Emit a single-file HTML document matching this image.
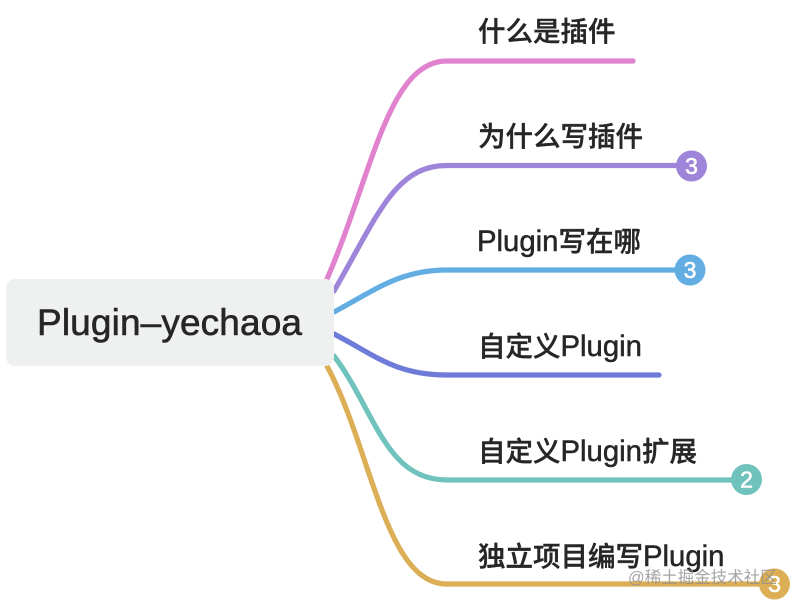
<!DOCTYPE html>
<html>
<head>
<meta charset="utf-8">
<style>
html,body{margin:0;padding:0;background:#fff;width:795px;height:604px;overflow:hidden}
svg{display:block}
.l{font-family:"Liberation Sans","Noto Sans CJK SC",sans-serif;font-size:27.5px;font-weight:500;fill:#262626;stroke:#262626;stroke-width:.4px}
.l tspan{font-size:29.300px;stroke-width:.5px}
.n{font-family:"Liberation Sans",sans-serif;font-size:23px;fill:#fff;stroke:#fff;stroke-width:.6px;text-anchor:middle}
path{fill:none;stroke-width:5.200;stroke-linecap:round}
</style>
</head>
<body>
<svg width="795" height="604" viewBox="0 0 795 604" xmlns="http://www.w3.org/2000/svg">
<path stroke="#e182cf" d="M327 279 C372 175 388 61 447 61 L633 61"/>
<path stroke="#9e85d9" d="M334 291 C378 215 395 165.500 447 165.500 L680 165.500"/>
<path stroke="#62aee3" d="M334 312 C375 290 400 270 447 270 L680 270"/>
<path stroke="#6f7bd9" d="M334 334 C375 355 395 375 447 375 L659 375"/>
<path stroke="#70c2bc" d="M334 356 C375 410 385 480 447 480 L735 480"/>
<path stroke="#dcae55" d="M327 366 C372 450 385 584 447 584 L765 584"/>
<rect x="6" y="279" width="328" height="87" rx="9" ry="9" fill="#eff1f1"/>
<text x="37" y="335" font-family="'Liberation Sans',sans-serif" font-size="37" fill="#262626" stroke="#262626" stroke-width=".6" textLength="265" lengthAdjust="spacing">Plugin–yechaoa</text>
<text class="l" x="478" y="41">什么是插件</text>
<text class="l" x="478" y="146">为什么写插件</text>
<text class="l" x="477" y="251"><tspan>Plugin</tspan>写在哪</text>
<text class="l" x="478" y="356">自定义<tspan>Plugin</tspan></text>
<text class="l" x="478" y="461">自定义<tspan>Plugin</tspan>扩展</text>
<text class="l" x="478" y="566">独立项目编写<tspan>Plugin</tspan></text>
<circle cx="691.500" cy="166" r="15.500" fill="#9e85d9"/>
<text class="n" x="691.500" y="174">3</text>
<circle cx="690" cy="270" r="15.500" fill="#62aee3"/>
<text class="n" x="690" y="278">3</text>
<circle cx="746.500" cy="479.500" r="15.500" fill="#70c2bc"/>
<text class="n" x="746.500" y="487.500">2</text>
<circle cx="774.500" cy="584" r="15.500" fill="#dcae55"/>
<text class="n" x="774.500" y="592">3</text>
<text x="628" y="583" font-family="'Liberation Sans','Noto Sans CJK SC',sans-serif" font-size="16.500" fill="#8f8f8f" fill-opacity=".8">@稀土掘金技术社区</text>
</svg>
</body>
</html>
